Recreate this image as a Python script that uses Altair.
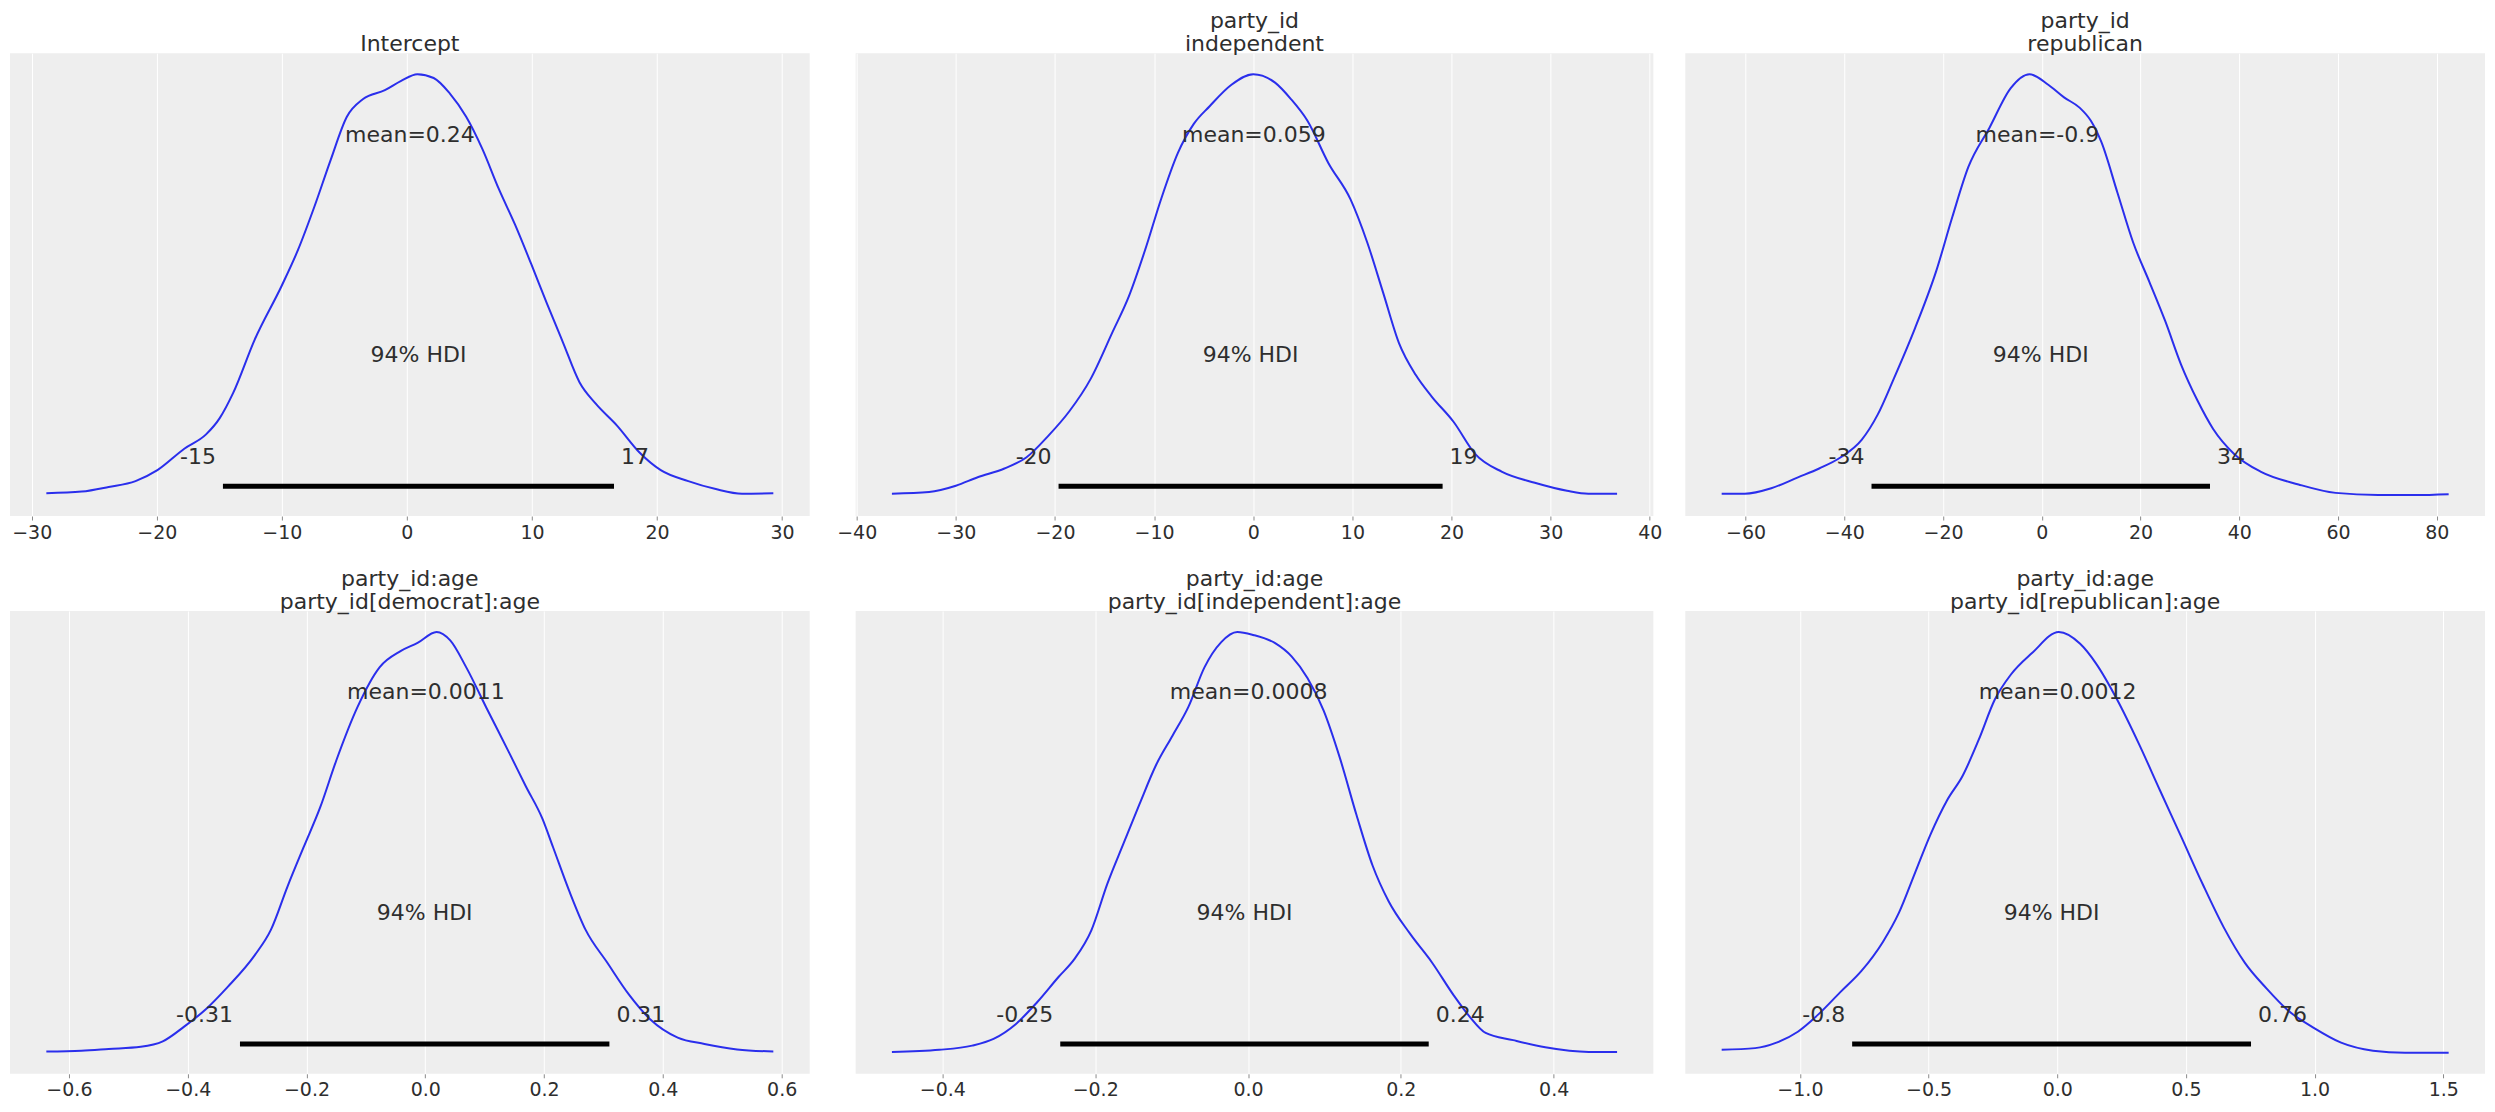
import altair as alt
import pandas as pd

# ---------------- data ----------------
titles = [
    ["Intercept"],
    ["party_id", "independent"],
    ["party_id", "republican"],
    ["party_id:age", "party_id[democrat]:age"],
    ["party_id:age", "party_id[independent]:age"],
    ["party_id:age", "party_id[republican]:age"],
]

x1 = [-28.83, -26.0, -23.85, -21.7, -19.95, -17.8, -16.06, -14.98, -13.9, -12.16, -10.0, -8.7, -7.4, -6.1,
      -4.8, -3.5, -1.76, -0.46, 0.84, 2.14, 3.44, 4.74, 6.04, 7.34, 8.64, 9.94, 11.2, 12.5, 13.8, 15.1,
      16.8, 18.6, 20.3, 22.5, 24.7, 26.8, 29.3]
d1 = [0.004, 0.008, 0.019, 0.033, 0.059, 0.11, 0.144, 0.182, 0.242, 0.37, 0.498, 0.583, 0.685, 0.796,
      0.899, 0.941, 0.962, 0.984, 1.0, 0.991, 0.954, 0.899, 0.822, 0.728, 0.643, 0.549, 0.455, 0.361, 0.268,
      0.217, 0.165, 0.101, 0.059, 0.033, 0.014, 0.003, 0.004]

x2 = [-36.45, -32.7, -30.0, -27.8, -25.1, -22.9, -20.7, -18.55, -16.4, -14.2, -12.55, -10.9, -9.3, -7.6,
      -6.0, -4.4, -2.2, 0.0, 2.2, 3.8, 5.45, 7.6, 9.8, 11.5, 13.1, 14.7, 16.4, 18.0, 20.2, 22.4, 25.1,
      28.4, 31.65, 33.8, 36.7]
d2 = [0.003, 0.007, 0.022, 0.042, 0.063, 0.089, 0.14, 0.199, 0.276, 0.387, 0.472, 0.583, 0.703, 0.813,
      0.882, 0.924, 0.975, 1.0, 0.98, 0.941, 0.89, 0.788, 0.703, 0.6, 0.481, 0.361, 0.285, 0.234, 0.174,
      0.097, 0.055, 0.029, 0.01, 0.003, 0.003]

x3 = [-64.85, -60.2, -54.8, -49.4, -45.1, -40.8, -36.5, -33.25, -30.0, -25.7, -21.4, -18.15, -14.9, -10.6,
      -6.3, -2.5, 1.3, 4.5, 7.7, 9.9, 12.05, 15.3, 18.5, 21.8, 25.0, 28.2, 31.5, 34.7, 39.0, 44.4, 52.0,
      59.5, 68.1, 75.7, 82.4]
d3 = [0.003, 0.003, 0.016, 0.042, 0.063, 0.089, 0.131, 0.191, 0.276, 0.396, 0.532, 0.66, 0.779, 0.873,
      0.967, 1.0, 0.975, 0.945, 0.92, 0.89, 0.839, 0.719, 0.6, 0.506, 0.413, 0.31, 0.225, 0.157, 0.097,
      0.055, 0.025, 0.005, 0.0, 0.0, 0.002]

x4 = [-0.638, -0.579, -0.533, -0.479, -0.442, -0.406, -0.369, -0.333, -0.287, -0.26, -0.232, -0.205,
      -0.177, -0.15, -0.114, -0.077, -0.041, -0.013, 0.019, 0.042, 0.069, 0.105, 0.142, 0.169, 0.197,
      0.215, 0.242, 0.27, 0.306, 0.343, 0.379, 0.425, 0.47, 0.525, 0.586]
d4 = [0.003, 0.005, 0.009, 0.014, 0.027, 0.062, 0.104, 0.156, 0.232, 0.292, 0.395, 0.488, 0.583, 0.694,
      0.822, 0.916, 0.955, 0.974, 1.0, 0.98, 0.916, 0.814, 0.711, 0.634, 0.557, 0.489, 0.386, 0.292,
      0.215, 0.138, 0.079, 0.036, 0.021, 0.008, 0.003]

x5 = [-0.466, -0.404, -0.361, -0.333, -0.304, -0.276, -0.248, -0.227, -0.205, -0.184, -0.163, -0.142,
      -0.12, -0.099, -0.078, -0.057, -0.035, -0.014, 0.007, 0.035, 0.057, 0.078, 0.099, 0.12, 0.142,
      0.163, 0.184, 0.212, 0.241, 0.269, 0.29, 0.311, 0.347, 0.389, 0.446, 0.483]
d5 = [0.002, 0.007, 0.017, 0.033, 0.068, 0.12, 0.18, 0.223, 0.291, 0.402, 0.497, 0.591, 0.685, 0.753,
      0.822, 0.916, 0.976, 1.0, 0.993, 0.974, 0.942, 0.89, 0.813, 0.702, 0.565, 0.445, 0.36, 0.283,
      0.214, 0.137, 0.086, 0.047, 0.03, 0.013, 0.002, 0.002]

x6 = [-1.304, -1.174, -1.091, -1.008, -0.925, -0.843, -0.76, -0.677, -0.615, -0.553, -0.491, -0.429,
      -0.367, -0.305, -0.243, -0.18, -0.098, 0.006, 0.089, 0.151, 0.233, 0.316, 0.399, 0.482, 0.565,
      0.647, 0.73, 0.813, 0.896, 1.0, 1.103, 1.227, 1.351, 1.521]
d6 = [0.007, 0.011, 0.024, 0.05, 0.093, 0.144, 0.195, 0.264, 0.333, 0.427, 0.521, 0.599, 0.659, 0.744,
      0.839, 0.899, 0.95, 1.0, 0.972, 0.925, 0.839, 0.736, 0.624, 0.513, 0.401, 0.298, 0.213, 0.153,
      0.101, 0.058, 0.024, 0.005, 0.0, 0.0]

xs = [x1, x2, x3, x4, x5, x6]
dens = [d1, d2, d3, d4, d5, d6]

means = [0.24, 0.059, -0.9, 0.0011, 0.0008, 0.0012]
mean_labels = ["mean=0.24", "mean=0.059", "mean=-0.9", "mean=0.0011", "mean=0.0008", "mean=0.0012"]
hdi_low = [-14.71, -19.64, -34.5, -0.312, -0.2457, -0.797]
hdi_high = [16.56, 19.1, 34.06, 0.31, 0.2365, 0.753]
hdi_low_labels = ["-15", "-20", "-34", "-0.31", "-0.25", "-0.8"]
hdi_high_labels = ["17", "19", "34", "0.31", "0.24", "0.76"]
hdi_text = "94% HDI"

tick_values = [
    [-30, -20, -10, 0, 10, 20, 30],
    [-40, -30, -20, -10, 0, 10, 20, 30, 40],
    [-60, -40, -20, 0, 20, 40, 60, 80],
    [-0.6, -0.4, -0.2, 0.0, 0.2, 0.4, 0.6],
    [-0.4, -0.2, 0.0, 0.2, 0.4],
    [-1.0, -0.5, 0.0, 0.5, 1.0, 1.5],
]
tick_formats = ["d", "d", "d", ".1f", ".1f", ".1f"]

# ---------------- styling ----------------
FONT = "DejaVu Sans"
TEXT_COLOR = "#2e2e2e"
LINE_COLOR = "#2a2eec"
TEXT_SIZE = 22
widths = [800, 798, 800, 800, 798, 800]
HEIGHT = 463


def panel(i):
    xv, dv = xs[i], dens[i]
    lo_d, hi_d = min(xv), max(xv)
    span = hi_d - lo_d
    xscale = alt.Scale(domain=[lo_d - 0.05 * span, hi_d + 0.05 * span], nice=False, zero=False)
    peak = max(dv)
    yscale = alt.Scale(domain=[-0.05 * peak, 1.05 * peak], nice=False, zero=False)
    plot_height = 1.05 * peak
    xaxis = alt.Axis(values=tick_values[i], format=tick_formats[i], title=None, grid=True,
                     gridColor="white", gridWidth=1, domain=False, ticks=True, tickSize=4,
                     tickColor="#8a8a8a", labelFontSize=19, labelColor=TEXT_COLOR, labelPadding=3,
                     labelFont=FONT, labelFlush=False)

    def X(field):
        return alt.X(field, type="quantitative", scale=xscale, axis=xaxis)

    def Y(field):
        return alt.Y(field, type="quantitative", scale=yscale, axis=None)

    curve = alt.Chart(pd.DataFrame({"x": xv, "density": dv})).mark_line(
        color=LINE_COLOR, strokeWidth=2, interpolate="monotone"
    ).encode(x=X("x"), y=Y("density"))

    bar = alt.Chart(pd.DataFrame({"lo": [hdi_low[i]], "hi": [hdi_high[i]], "y": [0.02 * plot_height]})).mark_rule(
        color="black", strokeWidth=5, strokeCap="butt"
    ).encode(x=X("lo"), x2="hi:Q", y=Y("y"))

    mean_t = alt.Chart(pd.DataFrame({"x": [means[i]], "y": [0.8 * plot_height], "t": [mean_labels[i]]})).mark_text(
        font=FONT, fontSize=TEXT_SIZE, color=TEXT_COLOR, align="center", baseline="alphabetic"
    ).encode(x=X("x"), y=Y("y"), text="t:N")

    hdi_t = alt.Chart(pd.DataFrame({"x": [(hdi_low[i] + hdi_high[i]) / 2], "y": [0.3 * plot_height],
                                    "t": [hdi_text]})).mark_text(
        font=FONT, fontSize=TEXT_SIZE, color=TEXT_COLOR, align="center", baseline="alphabetic"
    ).encode(x=X("x"), y=Y("y"), text="t:N")

    lo_t = alt.Chart(pd.DataFrame({"x": [hdi_low[i]], "y": [0.07 * plot_height], "t": [hdi_low_labels[i]]})).mark_text(
        font=FONT, fontSize=TEXT_SIZE, color=TEXT_COLOR, align="right", baseline="alphabetic", dx=-7
    ).encode(x=X("x"), y=Y("y"), text="t:N")

    hi_t = alt.Chart(pd.DataFrame({"x": [hdi_high[i]], "y": [0.07 * plot_height], "t": [hdi_high_labels[i]]})).mark_text(
        font=FONT, fontSize=TEXT_SIZE, color=TEXT_COLOR, align="left", baseline="alphabetic", dx=7
    ).encode(x=X("x"), y=Y("y"), text="t:N")

    return alt.layer(curve, bar, mean_t, hdi_t, lo_t, hi_t).properties(
        width=widths[i], height=HEIGHT,
        title=alt.TitleParams(text=titles[i], anchor="middle", fontSize=TEXT_SIZE, font=FONT,
                              fontWeight="normal", color=TEXT_COLOR, lineHeight=23, offset=-3),
    )


p = [panel(i) for i in range(6)]
top = alt.hconcat(p[0], alt.hconcat(p[1], p[2], spacing=32, bounds="flush"), spacing=46, bounds="flush")
bottom = alt.hconcat(p[3], alt.hconcat(p[4], p[5], spacing=32, bounds="flush"), spacing=46, bounds="flush")

chart = alt.vconcat(top, bottom, spacing=26).properties(
    padding={"left": 2, "top": 2, "right": 2, "bottom": 2},
    background="white",
).configure(font=FONT).configure_view(fill="#eeeeee", strokeWidth=0)

chart.save("out.html", embed_options={"renderer": "svg", "actions": False})
